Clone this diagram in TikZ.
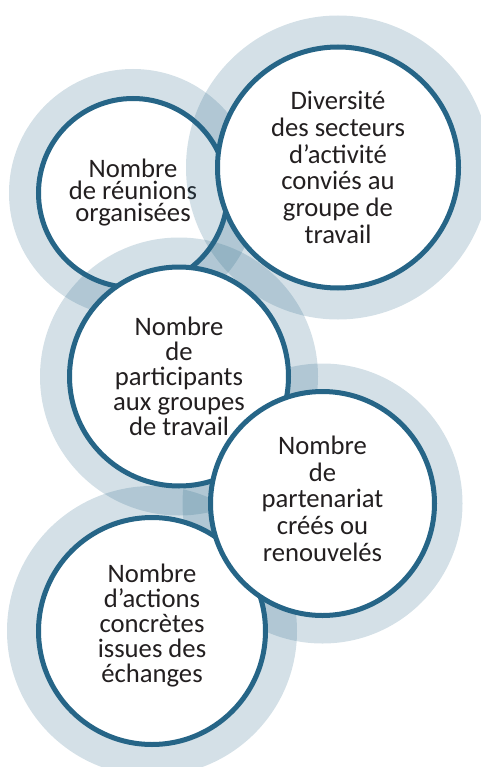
\documentclass[tikz,border=0pt]{standalone}
\usepackage{fontspec}
\setmainfont{Carlito}
\usepackage{tikz}
\definecolor{ringBlue}{RGB}{38,101,135}
\definecolor{textGrey}{RGB}{35,31,32}

\begin{document}
\begin{tikzpicture}[
  x=0.75pt, y=-0.75pt,
  halo/.style={circle, draw=none, fill=ringBlue, fill opacity=0.2,
    inner sep=0pt, minimum size=#1*0.75pt},
  disc/.style={circle, draw=ringBlue, line width=3.75pt, fill=white,
    inner sep=0pt, minimum size=#1*0.75pt, align=center, text=textGrey},
  lead/.style={font=\fontsize{20}{#1}\selectfont}
]
\useasboundingbox (0,0) rectangle (481,767);
\clip (0,0) rectangle (481,767);

% Centres
\coordinate (p1) at (133,193);
\coordinate (p2) at (338,167.5);
\coordinate (p3) at (179,376.5);
\coordinate (p4) at (322.5,503.5);
\coordinate (p5) at (152,631);

% Halos and discs
\node[halo=248] (h1) at (p1) {};
\node[disc=189, lead=16.5pt] (c1) at (p1) {Nombre\\de réunions\\organisées};

\node[halo=304] (h2) at (p2) {};
\node[halo=278] (h3) at (p3) {};
\node[halo=280] (h4) at (p4) {};
\node[halo=290] (h5) at (p5) {};

\node[disc=241, lead=20pt] (c2) at (p2)
  {Diversité\\des secteurs\\d’activité\\conviés au\\groupe de\\travail};
\node[disc=219, lead=18.75pt] (c3) at (p3)
  {Nombre\\de\\participants\\aux groupes\\de travail};
\node[disc=227, lead=18.75pt, text depth=11pt] (c5) at (p5)
  {Nombre\\d’actions\\concrètes\\issues des\\échanges};
\node[disc=224, lead=20pt, text depth=7.5pt] (c4) at (p4)
  {Nombre\\de\\partenariat\\créés ou\\renouvelés};

\end{tikzpicture}
\end{document}
